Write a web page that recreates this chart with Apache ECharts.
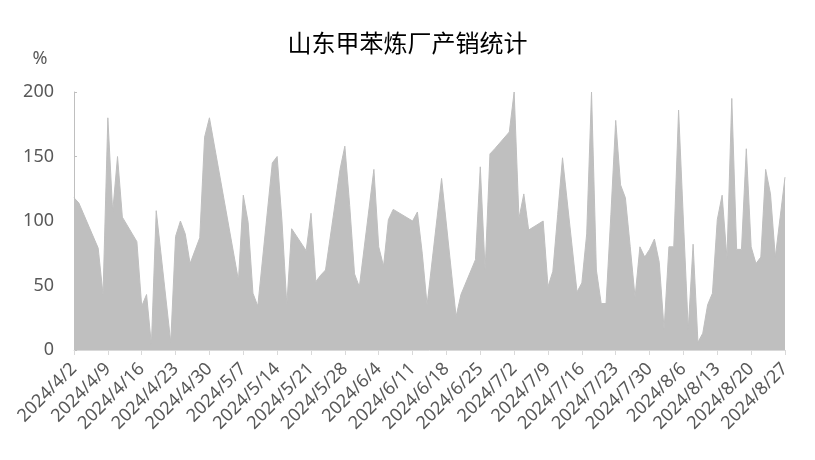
<!DOCTYPE html>
<html>
<head>
<meta charset="utf-8">
<script src="https://cdn.jsdelivr.net/npm/echarts@6/dist/echarts.min.js"></script>
<style>
  html, body { margin: 0; padding: 0; background: #fff; }
  #main { width: 815px; height: 460px; }
</style>
</head>
<body>
<div id="main"></div>
<script>
// 有数据的日期（月/日，2024年）
var dates = [
  '4/2', '4/3', '4/7', '4/8', '4/9', '4/10', '4/11', '4/12', '4/15', '4/16',
  '4/17', '4/18', '4/19', '4/22', '4/23', '4/24', '4/25', '4/26', '4/28', '4/29',
  '4/30', '5/6', '5/7', '5/8', '5/9', '5/10', '5/13', '5/14', '5/15', '5/16',
  '5/17', '5/20', '5/21', '5/22', '5/23', '5/24', '5/27', '5/28', '5/29', '5/30',
  '5/31', '6/3', '6/4', '6/5', '6/6', '6/7', '6/11', '6/12', '6/13', '6/14',
  '6/17', '6/20', '6/21', '6/24', '6/25', '6/26', '6/27', '6/28', '7/1', '7/2',
  '7/3', '7/4', '7/5', '7/8', '7/9', '7/10', '7/11', '7/12', '7/15', '7/16',
  '7/17', '7/18', '7/19', '7/20', '7/21', '7/22', '7/23', '7/24', '7/25', '7/26',
  '7/27', '7/28', '7/29', '7/30', '7/31', '8/1', '8/2', '8/3', '8/4', '8/5',
  '8/6', '8/7', '8/8', '8/9', '8/10', '8/11', '8/12', '8/13', '8/14', '8/15',
  '8/16', '8/17', '8/18', '8/19', '8/20', '8/21', '8/22', '8/23', '8/24', '8/25',
  '8/26', '8/27'
];

// 产销率 %
var values = [
  118, 114, 79, 43, 180, 107, 150, 103, 84, 34,
  43, 4, 108, 6, 88, 100, 90, 67, 87, 165,
  180, 54, 120, 99, 44, 34, 145, 150, 100, 35,
  94, 77, 106, 53, 58, 62, 140, 158, 112, 59,
  49, 140, 80, 65, 101, 109, 100, 107, 75, 35,
  133, 26, 43, 70, 142, 62, 152, 156, 169, 200,
  102, 121, 93, 100, 49, 61, 105, 149, 45, 52,
  90, 200, 62, 36, 36, 105, 178, 128, 118, 80,
  41, 80, 72, 78, 86, 68, 16, 80, 80, 186,
  100, 16, 82, 6, 13, 35, 44, 101, 120, 71,
  195, 78, 78, 156, 80, 67, 72, 140, 121, 72,
  103, 134
];

// 按天铺满横轴（2024/4/2 - 2024/8/27），没有数据的日子留空
var days = [];
var d = new Date(2024, 3, 2);
var end = new Date(2024, 7, 27);
while (d <= end) {
  days.push((d.getMonth() + 1) + '/' + d.getDate());
  d.setDate(d.getDate() + 1);
}
var lookup = {};
dates.forEach(function (k, i) { lookup[k] = values[i]; });
var seriesData = days.map(function (k) {
  return lookup.hasOwnProperty(k) ? lookup[k] : null;
});
var categories = days.map(function (k) { return '2024/' + k; });

var myChart = echarts.init(document.getElementById('main'));

var option = {
  animation: false,
  title: {
    text: '山东甲苯炼厂产销统计',
    left: 'center',
    top: 26,
    textStyle: {
      fontFamily: 'Noto Sans CJK SC',
      fontSize: 24,
      fontWeight: 'normal',
      color: '#000'
    }
  },
  grid: {
    left: 74,
    right: 30,
    top: 92,
    bottom: 110
  },
  xAxis: {
    type: 'category',
    data: categories,
    boundaryGap: false,
    axisLine: { lineStyle: { color: '#d9d9d9' } },
    axisTick: {
      interval: 6,
      length: 5,
      lineStyle: { color: '#d9d9d9' }
    },
    axisLabel: {
      interval: 6,
      rotate: 45,
      color: '#595959',
      fontSize: 18,
      fontFamily: 'Noto Sans',
      margin: 16
    }
  },
  yAxis: {
    type: 'value',
    min: 0,
    max: 200,
    interval: 50,
    name: '%',
    nameLocation: 'end',
    nameGap: 24,
    nameTextStyle: {
      color: '#595959',
      fontSize: 18,
      fontFamily: 'Noto Sans',
      align: 'center',
      padding: [0, 68, 0, 0]
    },
    axisLine: { show: true, lineStyle: { color: '#bfbfbf' } },
    axisTick: { show: true, inside: true, length: 3, lineStyle: { color: '#bfbfbf' } },
    splitLine: { show: false },
    axisLabel: {
      color: '#595959',
      fontSize: 18,
      fontFamily: 'Noto Sans',
      margin: 20
    }
  },
  series: [{
    type: 'line',
    data: seriesData,
    connectNulls: true,
    showSymbol: false,
    symbol: 'none',
    lineStyle: { width: 1, color: '#bfbfbf' },
    areaStyle: { color: '#bfbfbf', opacity: 1 }
  }]
};

myChart.setOption(option);
</script>
</body>
</html>
